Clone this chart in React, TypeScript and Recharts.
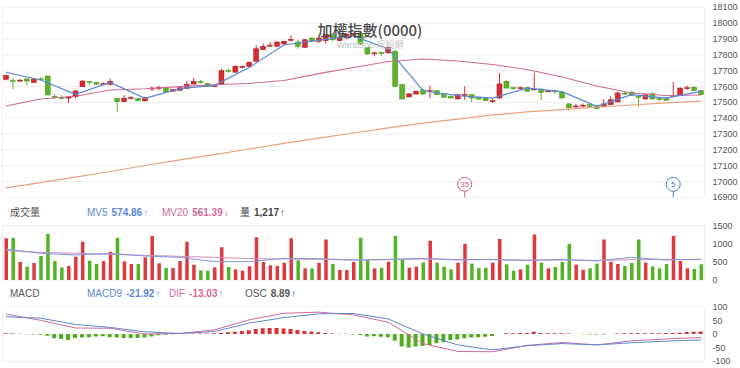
import React from "react";
import {
  ComposedChart,
  Bar,
  Line,
  XAxis,
  YAxis,
  CartesianGrid,
  Cell,
  ReferenceDot,
} from "recharts";

// daily candles
const open = [
  17645, 17637, 17638, 17648, 17625, 17648, 17666, 17538, 17530, 17526,
  17535, 17598, 17632, 17625, 17615, 17614, 17525, 17504, 17527, 17525,
  17509, 17585, 17590, 17590, 17570, 17576, 17588, 17615, 17632, 17618,
  17599, 17615, 17700, 17690, 17720, 17725, 17759, 17832, 17858, 17854,
  17868, 17895, 17881, 17847, 17906, 17885, 17889, 17927, 17889, 17906,
  17925, 17938, 17847, 17810, 17815, 17812, 17822, 17611, 17534, 17552,
  17578, 17570, 17574, 17554, 17537, 17521, 17546, 17548, 17532, 17527,
  17508, 17527, 17633, 17592, 17588, 17594, 17580, 17584, 17570, 17572,
  17565, 17490, 17472, 17478, 17485, 17478, 17475, 17485, 17502, 17558,
  17565, 17537, 17521, 17554, 17523, 17527, 17540, 17544, 17588, 17595,
  17574,
];
const high = [
  17675, 17652, 17648, 17650, 17650, 17660, 17668, 17552, 17545, 17538,
  17576, 17640, 17633, 17628, 17626, 17648, 17527, 17545, 17540, 17528,
  17535, 17600, 17605, 17592, 17584, 17596, 17633, 17655, 17642, 17622,
  17609, 17712, 17712, 17734, 17732, 17760, 17860, 17870, 17880, 17885,
  17890, 17923, 17895, 17900, 17912, 17910, 17930, 17935, 17910, 17935,
  17940, 17950, 17850, 17820, 17820, 17852, 17830, 17615, 17558, 17575,
  17585, 17605, 17578, 17556, 17540, 17550, 17601, 17550, 17535, 17530,
  17520, 17685, 17640, 17598, 17600, 17598, 17687, 17586, 17576, 17580,
  17567, 17492, 17490, 17492, 17490, 17480, 17520, 17538, 17565, 17568,
  17568, 17540, 17558, 17562, 17530, 17530, 17628, 17593, 17605, 17605,
  17578,
];
const low = [
  17638, 17582, 17632, 17610, 17622, 17640, 17544, 17520, 17518, 17495,
  17525, 17596, 17608, 17610, 17610, 17606, 17441, 17500, 17518, 17506,
  17505, 17570, 17575, 17564, 17567, 17572, 17586, 17613, 17618, 17598,
  17596, 17612, 17686, 17688, 17714, 17721, 17755, 17830, 17848, 17850,
  17865, 17881, 17839, 17843, 17880, 17875, 17870, 17885, 17885, 17900,
  17920, 17865, 17800, 17790, 17790, 17808, 17598, 17518, 17530, 17548,
  17548, 17525, 17545, 17530, 17525, 17518, 17516, 17500, 17515, 17506,
  17495, 17521, 17588, 17580, 17580, 17568, 17576, 17516, 17565, 17555,
  17525, 17446, 17460, 17465, 17472, 17457, 17472, 17483, 17500, 17548,
  17540, 17468, 17518, 17518, 17510, 17510, 17537, 17540, 17578, 17570,
  17545,
];
const close = [
  17670, 17634, 17640, 17634, 17648, 17645, 17546, 17535, 17528, 17535,
  17572, 17634, 17625, 17614, 17618, 17633, 17504, 17525, 17530, 17510,
  17530, 17590, 17594, 17566, 17580, 17592, 17614, 17632, 17626, 17600,
  17605, 17700, 17697, 17728, 17727, 17753, 17838, 17853, 17861, 17881,
  17885, 17898, 17854, 17895, 17885, 17906, 17927, 17895, 17906, 17931,
  17935, 17868, 17805, 17812, 17810, 17847, 17601, 17521, 17553, 17570,
  17552, 17574, 17548, 17532, 17527, 17548, 17550, 17527, 17520, 17510,
  17511, 17616, 17590, 17588, 17592, 17570, 17584, 17563, 17572, 17568,
  17527, 17465, 17477, 17482, 17475, 17460, 17490, 17516, 17559, 17555,
  17545, 17534, 17548, 17521, 17520, 17512, 17543, 17590, 17592, 17574,
  17548,
];
const volume = [
  1150, 1168, 497, 368, 469, 662, 1270, 524, 350, 386,
  644, 1058, 534, 442, 524, 782, 1168, 515, 442, 442,
  626, 1214, 460, 331, 331, 524, 1058, 423, 267, 258,
  350, 902, 359, 294, 258, 377, 1178, 497, 405, 386,
  478, 1150, 543, 322, 322, 478, 1122, 442, 276, 276,
  497, 1168, 550, 322, 340, 506, 1214, 570, 340, 368,
  488, 1086, 478, 368, 294, 478, 1003, 451, 331, 340,
  478, 1132, 432, 258, 294, 423, 1260, 478, 322, 359,
  497, 1003, 423, 285, 322, 451, 1122, 506, 442, 386,
  469, 1122, 478, 377, 322, 442, 1214, 524, 322, 304,
  432,
];
const osc = [
  3, 2, 0.5, -1, -2, -3, -6, -16, -18, -22,
  -15, -13, -12, -9, -8, -12, -13, -15, -15, -15,
  -13, -9, -5, -3, -1, 1, 1, 1.5, 1.5, 2,
  3, 5, 6, 8, 11, 14, 18, 21, 22, 22,
  20, 18, 15, 11, 9, 6, 4, 2, 1, 0.5,
  -2, -4, -9, -8, -10, -12, -25, -46, -49, -46,
  -44, -40, -34, -30, -22, -20, -16, -13, -12, -10,
  -7, 0, 3, 3, 4, 4, 8, 4, 3, 3,
  3, 2, 0, -1, -2, -2, -1.5, 0, 1.5, 3,
  3, 3, 3, 3, 3, 4, 4, 5, 7, 8,
  8.89,
];

// the average lines have a vertex every 5 bars
const MA_STEP = 5;
const ma5 = [17690, 17641, 17550, 17626, 17525, 17586, 17607, 17720, 17862, 17893, 17919, 17837, 17573, 17542, 17527, 17590, 17567, 17475, 17548, 17527, 17569];
const ma20 = [17477, 17521, 17538, 17578, 17586, 17599, 17611, 17619, 17638, 17681, 17720, 17758, 17773, 17761, 17739, 17707, 17660, 17603, 17559, 17543, 17546];
const ma60 = [16959, 16993, 17028, 17063, 17101, 17136, 17170, 17205, 17240, 17274, 17306, 17338, 17369, 17394, 17420, 17439, 17454, 17470, 17483, 17496, 17508];
const volMa5 = [856, 736, 690, 736, 662, 626, 506, 506, 598, 589, 552, 570, 598, 552, 570, 534, 570, 524, 626, 552, 575];
const volMa20 = [810, 764, 736, 708, 681, 653, 626, 589, 580, 570, 552, 561, 580, 570, 561, 552, 552, 543, 561, 570, 561];
const macd9 = [63, 58, 35, 24, 8, 2, 9, 40, 60, 74, 75, 55, 0, -40, -58, -43, -35, -40, -32, -26, -21.92];
const dif = [73, 50, 22, 21, 0, 2, 15, 52, 76, 80, 70, 43, -35, -64, -65, -42, -31, -40, -25, -18, -13.03];

const priceTicks = [16900, 17000, 17100, 17200, 17300, 17400, 17500, 17600, 17700, 17800, 17900, 18000, 18100];
const volTicks = [0, 500, 1000, 1500];
const macdTicks = [-100, -50, 0, 50, 100];
const gridBars = [6, 16, 26, 36, 46, 56, 66, 76, 86, 96];

const markerAt = [66, 96];
const markerText = ["35", "5"];
const markerPrice = 16982;

const RED = "#d62c30";
const GREEN = "#5db427";
const BLUE = "#5b88d6";
const PINK = "#d06b98";
const ORANGE = "#e9a27c";
const GRID = "#efefef";
const FONT = "'Liberation Sans', Arial, 'Noto Sans CJK TC', sans-serif";

const rows = open.map((o, i) => {
  const k = i % MA_STEP === 0 ? i / MA_STEP : -1;
  const pick = (arr: number[]) => (k >= 0 ? arr[k] : null);
  return {
    i,
    o,
    h: high[i],
    l: low[i],
    c: close[i],
    range: [low[i], high[i]],
    vol: volume[i],
    osc: osc[i],
    ma5: pick(ma5),
    ma20: pick(ma20),
    ma60: pick(ma60),
    volMa5: pick(volMa5),
    volMa20: pick(volMa20),
    macd9: pick(macd9),
    dif: pick(dif),
  };
});

function Candle(props: any) {
  const { x, y, width, height, payload } = props;
  const { o, c, h, l } = payload;
  const up = c >= o;
  const color = up ? RED : GREEN;
  const k = height / (h - l);
  const top = y + (h - Math.max(o, c)) * k;
  const bot = y + (h - Math.min(o, c)) * k;
  const mid = x + width / 2;
  return (
    <g>
      <line x1={mid} x2={mid} y1={y} y2={y + height} stroke={color} strokeWidth={1} />
      <rect
        x={x}
        y={top}
        width={width}
        height={Math.max(bot - top, 1)}
        fill={color}
        stroke={up ? "#a81c22" : "#4a961c"}
        strokeWidth={0.5}
      />
    </g>
  );
}

function Marker(props: any) {
  const { cx, cy, text, color } = props;
  return (
    <g>
      <line x1={cx} x2={cx} y1={cy + 7} y2={cy + 13} stroke={color} strokeWidth={1} />
      <circle cx={cx} cy={cy} r={7} fill="#fff" stroke={color} strokeWidth={1} />
      <text x={cx} y={cy + 3} textAnchor="middle" fontSize={8} fill={color} fontFamily={FONT}>
        {text}
      </text>
    </g>
  );
}

const W = 740;
const margin = (top: number, bottom: number) => ({ top, bottom, left: 2.5, right: 0 });
const tickStyle = { fontSize: 9, fill: "#555", fontFamily: FONT };

function xAxis() {
  return (
    <XAxis
      dataKey="i"
      type="category"
      ticks={gridBars}
      interval={0}
      tick={false}
      tickLine={false}
      axisLine={false}
      height={0}
    />
  );
}

function Legend({ top, items }: { top: number; items: any[] }) {
  return (
    <>
      {items.map((it, k) => (
        <div
          key={k}
          style={{
            position: "absolute",
            left: it.left,
            top,
            fontSize: 10,
            lineHeight: "14px",
            color: it.color,
            whiteSpace: "nowrap",
            fontFamily: FONT,
          }}
        >
          {it.name}
          {it.value ? <b style={{ marginLeft: 4 }}>{it.value}</b> : null}
          {it.arrow ? <span style={{ marginLeft: 1 }}>{it.arrow}</span> : null}
        </div>
      ))}
    </>
  );
}

export default function App() {
  return (
    <div style={{ position: "absolute", left: 0, top: 0, width: W, height: 368, background: "#fff", fontFamily: FONT }}>
      {/* price panel */}
      <div style={{ position: "absolute", left: 0, top: 0 }}>
        <ComposedChart width={W} height={204} data={rows} margin={margin(7.3, 6.7)}>
          <CartesianGrid stroke={GRID} />
          {xAxis()}
          <YAxis
            orientation="right"
            domain={[16900, 18100]}
            ticks={priceTicks}
            interval={0}
            width={35.5}
            tickLine={false}
            axisLine={false}
            tick={tickStyle}
            allowDataOverflow
          />
          <Bar dataKey="range" barSize={5} shape={<Candle />} isAnimationActive={false} />
          <Line dataKey="ma60" stroke={ORANGE} strokeWidth={1.2} dot={false} connectNulls isAnimationActive={false} />
          <Line dataKey="ma20" stroke={PINK} strokeWidth={1.1} dot={false} connectNulls isAnimationActive={false} />
          <Line dataKey="ma5" stroke={BLUE} strokeWidth={1.2} dot={false} connectNulls isAnimationActive={false} />
          {markerAt.map((at, k) => (
            <ReferenceDot
              key={k}
              x={at}
              y={markerPrice}
              r={7}
              shape={<Marker text={markerText[k]} color={k === 0 ? "#d0608e" : "#4f80d2"} />}
            />
          ))}
        </ComposedChart>
      </div>

      <div
        style={{
          position: "absolute",
          left: 0,
          top: 20,
          width: W,
          textAlign: "center",
          fontSize: 15,
          lineHeight: "20px",
          color: "#4a4a4a",
          fontFamily: "'Noto Sans CJK TC', 'Liberation Sans', sans-serif",
          fontWeight: 500,
          pointerEvents: "none",
        }}
      >
        加權指數(0000)
      </div>
      <div
        style={{
          position: "absolute",
          left: 0,
          top: 39,
          width: W,
          textAlign: "center",
          fontSize: 9,
          lineHeight: "13px",
          color: "#c4c4c4",
          fontFamily: "'Liberation Sans', 'Noto Sans CJK TC', sans-serif",
          pointerEvents: "none",
        }}
      >
        WantGoo 玩股網
      </div>

      {/* volume panel */}
      <Legend
        top={206.3}
        items={[
          { left: 10, name: "成交量", color: "#555" },
          { left: 87, name: "MV5", value: "574.86", arrow: "↑", color: BLUE },
          { left: 162, name: "MV20", value: "561.39", arrow: "↓", color: PINK },
          { left: 240, name: "量", value: "1,217", arrow: "↑", color: "#444" },
        ]}
      />
      <div style={{ position: "absolute", left: 0, top: 218 }}>
        <ComposedChart width={W} height={68} data={rows} margin={margin(7.7, 6)}>
          <CartesianGrid stroke={GRID} horizontalValues={[0, 1500]} />
          {xAxis()}
          <YAxis
            orientation="right"
            domain={[0, 1500]}
            ticks={volTicks}
            interval={0}
            width={35.5}
            tickLine={false}
            axisLine={false}
            tick={tickStyle}
            allowDataOverflow
          />
          <Bar dataKey="vol" barSize={3.5} isAnimationActive={false}>
            {rows.map((r, k) => (
              <Cell key={k} fill={r.c >= r.o ? "#dc3a3f" : "#52b324"} />
            ))}
          </Bar>
          <Line dataKey="volMa20" stroke="#d98bb4" strokeWidth={1} dot={false} connectNulls isAnimationActive={false} />
          <Line dataKey="volMa5" stroke="#7d97e0" strokeWidth={1} dot={false} connectNulls isAnimationActive={false} />
        </ComposedChart>
      </div>

      {/* MACD panel */}
      <Legend
        top={287.3}
        items={[
          { left: 10, name: "MACD", color: "#555" },
          { left: 87, name: "MACD9", value: "-21.92", arrow: "↑", color: BLUE },
          { left: 169, name: "DIF", value: "-13.03", arrow: "↑", color: PINK },
          { left: 245, name: "OSC", value: "8.89", arrow: "↑", color: "#555" },
        ]}
      />
      <div style={{ position: "absolute", left: 0, top: 300 }}>
        <ComposedChart width={W} height={68} data={rows} margin={margin(6.7, 6.7)}>
          <CartesianGrid stroke={GRID} horizontalValues={[-100, 100]} />
          {xAxis()}
          <YAxis
            orientation="right"
            domain={[-100, 100]}
            ticks={macdTicks}
            interval={0}
            width={35.5}
            tickLine={false}
            axisLine={false}
            tick={tickStyle}
            allowDataOverflow
          />
          <Bar dataKey="osc" barSize={4} isAnimationActive={false}>
            {rows.map((r, k) => (
              <Cell key={k} fill={r.osc >= 0 ? "#d83236" : "#4fae20"} />
            ))}
          </Bar>
          <Line dataKey="dif" stroke={PINK} strokeWidth={1} dot={false} connectNulls isAnimationActive={false} />
          <Line dataKey="macd9" stroke={BLUE} strokeWidth={1} dot={false} connectNulls isAnimationActive={false} />
        </ComposedChart>
      </div>
    </div>
  );
}
